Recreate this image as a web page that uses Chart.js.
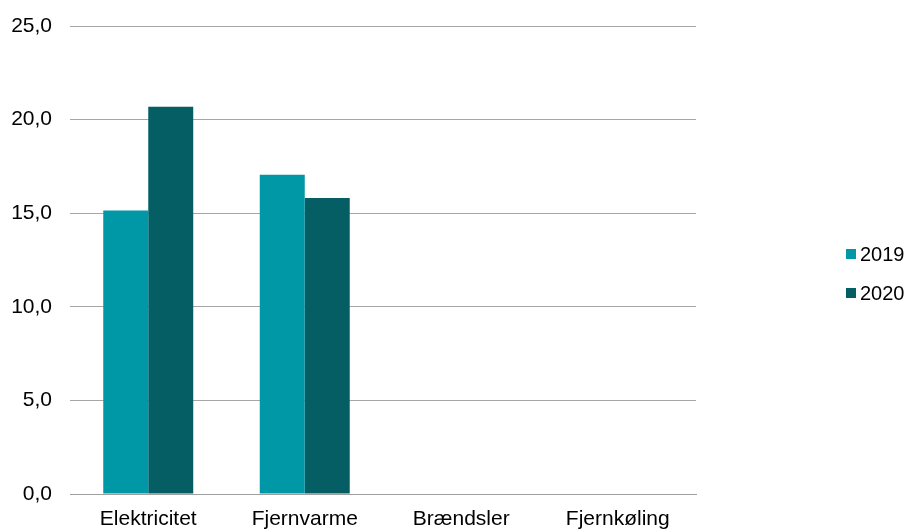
<!DOCTYPE html>
<html>
<head>
<meta charset="utf-8">
<script src="https://cdn.jsdelivr.net/npm/chart.js@4/dist/chart.umd.min.js"></script>
<style>
  html, body { margin: 0; padding: 0; background: #fff; }
  #wrap { position: relative; width: 909px; height: 530px; }
  #legend { position: absolute; left: 846px; top: 244px; font-family: "Liberation Sans", Arial, sans-serif; font-size: 20px; color: #000; }
  .item { display: flex; align-items: center; height: 20px; margin-bottom: 19px; }
  .box { width: 10px; height: 10px; margin-right: 4px; }
</style>
</head>
<body>
<div id="wrap">
  <canvas id="chart" width="909" height="530"></canvas>
  <div id="legend"></div>
</div>
<script>
// chart data
const categories = ['Elektricitet', 'Fjernvarme', 'Brændsler', 'Fjernkøling'];
const values2019 = [15.15, 17.05, 0, 0];
const values2020 = [20.68, 15.81, 0, 0];
const seriesLabels = ['2019', '2020'];
const seriesColors = ['#0097A7', '#055E64'];
const yTicks = [0, 5, 10, 15, 20, 25];

const FONT = '"Liberation Sans", Arial, sans-serif';

// simple html legend on the right
function buildLegend(datasets) {
    const legend = document.getElementById('legend');
    datasets.forEach(function(ds) {
        const item = document.createElement('div');
        item.className = 'item';
        const box = document.createElement('span');
        box.className = 'box';
        box.style.background = ds.backgroundColor;
        const text = document.createElement('span');
        text.textContent = ds.label;
        item.appendChild(box);
        item.appendChild(text);
        legend.appendChild(item);
    });
}

const datasets = [
    { label: seriesLabels[0], data: values2019, backgroundColor: seriesColors[0] },
    { label: seriesLabels[1], data: values2020, backgroundColor: seriesColors[1] }
];

new Chart(document.getElementById('chart').getContext('2d'), {
    type: 'bar',
    data: {
        labels: categories,
        datasets: datasets
    },
    options: {
        responsive: false,
        animation: false,
        layout: {
            padding: { top: 26, right: 213, bottom: 0, left: 0 }
        },
        datasets: {
            bar: {
                categoryPercentage: 0.575,
                barPercentage: 1.0
            }
        },
        plugins: {
            legend: { display: false },
            tooltip: { enabled: false }
        },
        scales: {
            x: {
                grid: { display: false },
                border: { color: '#A0A0A0', width: 1 },
                ticks: {
                    color: '#000',
                    padding: 5,
                    maxRotation: 0,
                    font: { family: FONT, size: 21 }
                },
                afterFit: function(scale) { scale.height = 36; }
            },
            y: {
                min: yTicks[0],
                max: yTicks[yTicks.length - 1],
                afterBuildTicks: function(scale) {
                    scale.ticks = yTicks.map(function(v) { return { value: v }; });
                },
                grid: { color: '#A6A6A6', lineWidth: 1, drawTicks: false },
                border: { display: false },
                ticks: {
                    color: '#000',
                    padding: 18,
                    font: { family: FONT, size: 21 },
                    callback: function(value) {
                        return value.toFixed(1).replace('.', ',');
                    }
                },
                afterFit: function(scale) {
                    // fixed axis width, top spacing comes from layout padding
                    scale.width = 70;
                    scale.paddingTop = 0;
                    scale.paddingBottom = 0;
                }
            }
        }
    }
});

buildLegend(datasets);
</script>
</body>
</html>
